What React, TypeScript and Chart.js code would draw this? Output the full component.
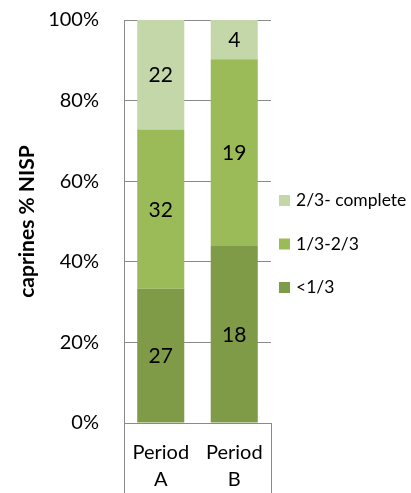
import { useEffect, useRef } from "react";
import { Chart, registerables } from "chart.js";

Chart.register(...registerables);

// Categories (multi-line tick labels)
const periods: string[][] = [
  ["Period", "A"],
  ["Period", "B"],
];

// Fusion-stage groups, bottom to top of each stack
const seriesNames = ["<1/3", "1/3-2/3", "2/3- complete"];
const lessThanThird = [27, 18];
const thirdToTwoThirds = [32, 19];
const twoThirdsToComplete = [22, 4];

// Value axis ticks (percent)
const percentTicks = [0, 20, 40, 60, 80, 100];

const seriesColors = ["#7f9b48", "#9bbb59", "#c4d7a9"];
const FONT = "Lato, 'Open Sans', sans-serif";
const GRID = "#8a8a8a";

const counts = [lessThanThird, thirdToTwoThirds, twoThirdsToComplete];
const totals = periods.map((_, i) => counts.reduce((s, arr) => s + arr[i], 0));
const toPercent = (arr: number[]) => arr.map((v, i) => (v / totals[i]) * 100);

// Writes the raw count in the middle of each stacked segment
const segmentLabels = {
  id: "segmentLabels",
  afterDatasetsDraw(chart: any) {
    const { ctx } = chart;
    ctx.save();
    ctx.font = `21px ${FONT}`;
    ctx.fillStyle = "#000";
    ctx.textAlign = "center";
    ctx.textBaseline = "middle";
    chart.data.datasets.forEach((ds: any, di: number) => {
      const meta = chart.getDatasetMeta(di);
      meta.data.forEach((bar: any, i: number) => {
        const { x, y, base } = bar.getProps(["x", "y", "base"], true);
        ctx.fillText(String(ds.counts[i]), x, (y + base) / 2 + 1);
      });
    });
    ctx.restore();
  },
};

// Legend to the right of the plot, top series listed first
const sideLegend = {
  id: "sideLegend",
  afterDraw(chart: any) {
    const { ctx, chartArea } = chart;
    const sets = chart.data.datasets;
    const gap = 43.5;
    const mid = chart.height / 2 - 2.5;
    const boxX = chartArea.right + 8;
    ctx.save();
    ctx.font = `17.5px ${FONT}`;
    ctx.textBaseline = "middle";
    ctx.textAlign = "left";
    const n = sets.length;
    for (let k = 0; k < n; k++) {
      const ds = sets[n - 1 - k];
      const y = mid + (k - (n - 1) / 2) * gap;
      ctx.fillStyle = ds.backgroundColor;
      ctx.fillRect(boxX, y - 5.5, 11, 11);
      ctx.fillStyle = "#000";
      ctx.fillText(ds.label, boxX + 17, y);
    }
    ctx.restore();
  },
};

function StackedChart() {
  const canvasRef = useRef<HTMLCanvasElement | null>(null);

  useEffect(() => {
    if (!canvasRef.current) return;
    const chart = new Chart(canvasRef.current, {
      type: "bar",
      data: {
        labels: periods,
        datasets: counts.map((arr, i) => ({
          label: seriesNames[i],
          data: toPercent(arr),
          counts: arr,
          backgroundColor: seriesColors[i],
          borderWidth: 0,
          barPercentage: 0.64,
          categoryPercentage: 1,
        })) as any,
      },
      options: {
        responsive: false,
        animation: false,
        devicePixelRatio: 1,
        layout: { padding: { top: 20, right: 140, left: 0, bottom: 0 } },
        plugins: {
          legend: { display: false },
          tooltip: { enabled: false },
        },
        scales: {
          x: {
            stacked: true,
            offset: true,
            afterFit: (scale: any) => {
              scale.height = 70;
            },
            grid: {
              offset: true,
              drawOnChartArea: false,
              drawTicks: true,
              tickLength: 70,
              color: (c: any) => (c.index === 1 ? "rgba(0,0,0,0)" : GRID),
            },
            border: { display: true, color: GRID, width: 1 },
            ticks: {
              color: "#000",
              padding: -54,
              font: { family: FONT, size: 20, lineHeight: 1.35 },
            },
          },
          y: {
            stacked: true,
            min: 0,
            max: 100,
            afterFit: (scale: any) => {
              scale.width = 124;
              scale.paddingTop = 0;
              scale.paddingBottom = 0;
            },
            afterBuildTicks: (scale: any) => {
              scale.ticks = percentTicks.map((v) => ({ value: v }));
            },
            grid: { color: GRID, drawTicks: false },
            border: { display: true, color: GRID, width: 1 },
            ticks: {
              color: "#000",
              padding: 25,
              font: { family: FONT, size: 20 },
              callback: (v: any) => `${v}%`,
            },
            title: {
              display: true,
              text: "caprines % NISP",
              color: "#000",
              padding: { top: 15, bottom: 0 },
              font: { family: FONT, size: 21, weight: "bold" },
            },
          },
        },
      },
      plugins: [segmentLabels, sideLegend],
    });
    return () => chart.destroy();
  }, []);

  return (
    <div style={{ position: "absolute", left: 0, top: 0, width: 411, height: 493, background: "#fff" }}>
      <canvas ref={canvasRef} width={411} height={493} style={{ display: "block" }} />
    </div>
  );
}

export default function App() {
  return <StackedChart />;
}
